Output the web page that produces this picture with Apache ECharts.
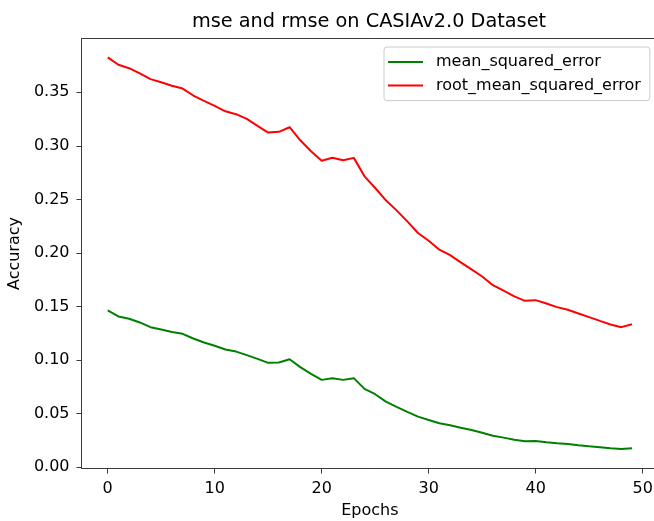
<!DOCTYPE html>
<html>
<head>
<meta charset="utf-8">
<script src="https://cdn.jsdelivr.net/npm/echarts@6/dist/echarts.min.js"></script>
<style>
  html, body { margin: 0; padding: 0; background: #fff; overflow: hidden; }
  #chart { width: 654px; height: 521px; }
</style>
</head>
<body>
<div id="chart"></div>
<script>
const titleText = 'mse and rmse on CASIAv2.0 Dataset';
const xAxisName = 'Epochs';
const yAxisName = 'Accuracy';
const seriesNames = ['mean_squared_error', 'root_mean_squared_error'];

const epochs = [0,1,2,3,4,5,6,7,8,9,10,11,12,13,14,15,16,17,18,19,20,21,22,23,24,
  25,26,27,28,29,30,31,32,33,34,35,36,37,38,39,40,41,42,43,44,45,46,47,48,49];

const mse = [0.1464,0.1408,0.1386,0.1352,0.1308,0.1286,0.1262,0.1246,0.1202,0.1165,
  0.1134,0.1099,0.1080,0.1047,0.1012,0.0975,0.0978,0.1009,0.0935,0.0872,
  0.0816,0.0832,0.0816,0.0832,0.0732,0.0682,0.0613,0.0564,0.0517,0.0473,
  0.0442,0.0411,0.0392,0.0370,0.0349,0.0323,0.0295,0.0277,0.0258,0.0243,
  0.0246,0.0234,0.0224,0.0218,0.0206,0.0196,0.0187,0.0178,0.0171,0.0178];

const rmse = [0.3826,0.3757,0.3725,0.3676,0.3623,0.3594,0.3561,0.3535,0.3470,0.3420,
  0.3374,0.3323,0.3296,0.3252,0.3187,0.3124,0.3131,0.3174,0.3052,0.2950,
  0.2862,0.2889,0.2866,0.2888,0.2716,0.2607,0.2492,0.2398,0.2295,0.2187,
  0.2115,0.2031,0.1981,0.1912,0.1847,0.1781,0.1700,0.1648,0.1595,0.1554,
  0.1560,0.1529,0.1495,0.1470,0.1436,0.1402,0.1367,0.1333,0.1308,0.1335];

const xTicks = [0, 10, 20, 30, 40, 50];
const yTicks = [0, 0.05, 0.10, 0.15, 0.20, 0.25, 0.30, 0.35];

const FONT = 'DejaVu Sans';
const SPINE = '#3a3a3a';
const chart = echarts.init(document.getElementById('chart'), null, { renderer: 'canvas' });

function pairs(xs, ys) { return xs.map((x, i) => [x, ys[i]]); }

chart.setOption({
  animation: false,
  backgroundColor: '#ffffff',
  title: {
    text: titleText,
    left: 369,
    top: 12,
    padding: 0,
    textAlign: 'center',
    textStyle: { fontFamily: FONT, fontSize: 19.3, fontWeight: 'normal', color: '#000' }
  },
  legend: {
    orient: 'vertical',
    left: 384,
    top: 47,
    align: 'left',
    icon: 'rect',
    itemWidth: 35,
    itemHeight: 2,
    itemGap: 5.6,
    padding: [6, 9, 6, 4],
    backgroundColor: '#ffffff',
    borderColor: '#cccccc',
    borderWidth: 1,
    borderRadius: 3,
    textStyle: { fontFamily: FONT, fontSize: 16, color: '#000', lineHeight: 18, padding: [0, 0, 0, 8] },
    data: seriesNames
  },
  grid: {
    left: 81.5,
    top: 38.5,
    width: 576.7,
    height: 430,
    show: false,
    containLabel: false,
    outerBoundsMode: 'none'
  },
  xAxis: [{
    type: 'value',
    min: -2.45,
    max: 51.45,
    position: 'bottom',
    name: xAxisName,
    nameLocation: 'middle',
    nameGap: 34,
    nameTextStyle: { fontFamily: FONT, fontSize: 16, color: '#000' },
    axisLine: { show: true, onZero: false, lineStyle: { color: SPINE, width: 1 } },
    axisTick: { show: true, length: 5, customValues: xTicks, lineStyle: { color: SPINE, width: 1 } },
    axisLabel: { show: true, margin: 12, customValues: xTicks, fontFamily: FONT, fontSize: 16, color: '#000',
      formatter: v => String(Math.round(v)) },
    splitLine: { show: false }
  }, {
    type: 'value',
    min: -2.45,
    max: 51.45,
    position: 'top',
    axisLine: { show: true, onZero: false, lineStyle: { color: SPINE, width: 1 } },
    axisTick: { show: false },
    axisLabel: { show: false },
    splitLine: { show: false }
  }],
  yAxis: {
    type: 'value',
    min: -0.00112,
    max: 0.40022,
    name: yAxisName,
    nameLocation: 'middle',
    nameRotate: 90,
    nameGap: 54,
    nameTextStyle: { fontFamily: FONT, fontSize: 16, color: '#000' },
    axisLine: { show: true, onZero: false, lineStyle: { color: SPINE, width: 1 } },
    axisTick: { show: true, length: 5, customValues: yTicks, lineStyle: { color: SPINE, width: 1 } },
    axisLabel: { show: true, margin: 12, customValues: yTicks, fontFamily: FONT, fontSize: 16, color: '#000',
      formatter: v => v.toFixed(2) },
    splitLine: { show: false }
  },
  series: [
    {
      name: seriesNames[0],
      type: 'line',
      data: pairs(epochs, mse),
      symbol: 'none',
      showSymbol: false,
      color: '#008000',
      lineStyle: { color: '#008000', width: 2 }
    },
    {
      name: seriesNames[1],
      type: 'line',
      data: pairs(epochs, rmse),
      symbol: 'none',
      showSymbol: false,
      color: '#ff0000',
      lineStyle: { color: '#ff0000', width: 2 }
    }
  ]
});
</script>
</body>
</html>
